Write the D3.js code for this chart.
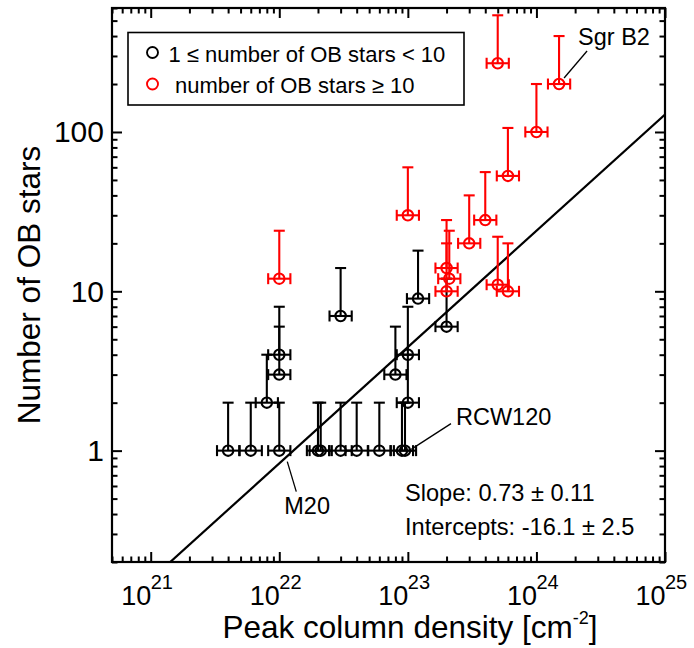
<!DOCTYPE html>
<html>
<head>
<meta charset="utf-8">
<script src="https://cdn.jsdelivr.net/npm/d3@7/dist/d3.min.js"></script>
<style>
  html, body { margin: 0; padding: 0; background: #fff; }
  svg { display: block; font-family: "Liberation Sans", Arial, Helvetica, sans-serif; }
</style>
</head>
<body>
<svg id="chart" width="694" height="648"></svg>
<script>
// Regions with 1 <= N(OB) < 10: peak column density [cm^-2], OB star count, upper error bound
const blackNH = [4e21, 6e21, 1e22, 2e22, 2.1e22, 3e22, 4e22, 6e22, 9e22, 9.5e22,
                 8e21, 1e23, 1e22, 1e22, 8e22, 1e23, 2e23, 3e22, 1.2e23];
const blackN = [1, 1, 1, 1, 1, 1, 1, 1, 1, 1,
                2, 2, 3, 4, 3, 4, 6, 7, 9];
const blackNUpper = [2, 2, 2, 2, 2, 2, 2, 2, 2, 2,
                     4, 4, 6, 8, 6, 8, 12, 14, 18];

// Regions with N(OB) >= 10
const redNH = [1e22, 1e23, 2e23, 2.1e23, 2e23, 3e23, 4e23, 5e23, 6e23, 6e23, 5e23, 1e24, 1.5e24];
const redN = [12, 30, 14, 12, 10, 20, 28, 11, 10, 53, 270, 100, 200];
const redNUpper = [24, 60, 28, 24, 20, 40, 56, 22, 20, 106, 540, 200, 400];

// Multiplicative uncertainty on the peak column density
const nhErrFactor = 1.22;

// Power-law fit: log N = slope * log NH + intercept
const fitSlope = 0.73;
const fitIntercept = -16.14;
const slopeText = "Slope: 0.73 \u00b1 0.11";
const interceptText = "Intercepts: -16.1 \u00b1 2.5";

// Axis extents and major tick exponents
const xDomain = [5e20, 1e25];
const yDomain = [0.2, 600];
const xTickExponents = [21, 22, 23, 24, 25];
const yTickValues = [1, 10, 100];
const yTickLabels = ["1", "10", "100"];

// Named regions
const namedRegions = [
  { name: "Sgr B2", nh: 1.5e24, n: 200 },
  { name: "M20", nh: 1e22, n: 1 },
  { name: "RCW120", nh: 9.5e22, n: 1 }
];

const legendLabels = ["1 \u2264 number of OB stars < 10", "number of OB stars \u2265 10"];

const RED = "#ff0000";
const svg = d3.select("#chart");
const plot = { left: 112, right: 665, top: 8, bottom: 562 };

const x = d3.scaleLog().domain(xDomain).range([plot.left, plot.right]);
const y = d3.scaleLog().domain(yDomain).range([plot.bottom, plot.top]);

svg.append("defs").append("clipPath").attr("id", "plotClip")
  .append("rect")
  .attr("x", plot.left).attr("y", plot.top)
  .attr("width", plot.right - plot.left).attr("height", plot.bottom - plot.top);

// ---- axes: inward ticks on all four sides ----
const isMajor = v => Math.abs(Math.log10(v) - Math.round(Math.log10(v))) < 1e-9;
const xAll = x.ticks();
const yAll = y.ticks();
const xMinor = xAll.filter(v => !isMajor(v));
const xMajor = xAll.filter(isMajor);
const yMinor = yAll.filter(v => !isMajor(v));
const yMajor = yAll.filter(isMajor);

function drawAxis(gen, transform) {
  const g = svg.append("g").attr("transform", transform).call(gen);
  g.select(".domain").remove();
  g.selectAll(".tick line").attr("stroke", "#000").attr("stroke-width", 2);
  g.selectAll(".tick text").remove();
  return g;
}
const majorLen = 10, minorLen = 5.5;
drawAxis(d3.axisBottom(x).tickValues(xMajor).tickSize(-majorLen), `translate(0,${plot.bottom})`);
drawAxis(d3.axisBottom(x).tickValues(xMinor).tickSize(-minorLen), `translate(0,${plot.bottom})`);
drawAxis(d3.axisTop(x).tickValues(xMajor).tickSize(-majorLen), `translate(0,${plot.top})`);
drawAxis(d3.axisTop(x).tickValues(xMinor).tickSize(-minorLen), `translate(0,${plot.top})`);
drawAxis(d3.axisLeft(y).tickValues(yMajor).tickSize(-majorLen), `translate(${plot.left},0)`);
drawAxis(d3.axisLeft(y).tickValues(yMinor).tickSize(-minorLen), `translate(${plot.left},0)`);
drawAxis(d3.axisRight(y).tickValues(yMajor).tickSize(-majorLen), `translate(${plot.right},0)`);
drawAxis(d3.axisRight(y).tickValues(yMinor).tickSize(-minorLen), `translate(${plot.right},0)`);

svg.append("rect")
  .attr("x", plot.left).attr("y", plot.top)
  .attr("width", plot.right - plot.left).attr("height", plot.bottom - plot.top)
  .attr("fill", "none").attr("stroke", "#000").attr("stroke-width", 2.2);

// x tick labels: 10 with a raised exponent
const xLab = svg.append("g").attr("fill", "#000");
xTickExponents.forEach(e => {
  const px = x(Math.pow(10, e));
  xLab.append("text").attr("x", px + 0.5).attr("y", 605)
    .attr("text-anchor", "end").attr("font-size", 27).text("10");
  xLab.append("text").attr("x", px).attr("y", 589)
    .attr("text-anchor", "start").attr("font-size", 20).text(String(e));
});

// y tick labels
yTickValues.forEach((v, i) => {
  svg.append("text").attr("x", 104).attr("y", y(v) + 10.5)
    .attr("text-anchor", "end").attr("font-size", 30).text(yTickLabels[i]);
});

// axis titles
const xTitle = svg.append("text").attr("x", 410).attr("y", 638)
  .attr("text-anchor", "middle").attr("font-size", 31.5);
xTitle.append("tspan").text("Peak column density [cm");
xTitle.append("tspan").attr("font-size", 18).attr("dy", -14).text("-2");
xTitle.append("tspan").attr("dy", 14).text("]");

svg.append("text")
  .attr("transform", `translate(40,${(plot.top + plot.bottom) / 2}) rotate(-90)`)
  .attr("text-anchor", "middle").attr("font-size", 31.5)
  .text("Number of OB stars");

// ---- fit line ----
const fitY = nh => Math.pow(10, fitSlope * Math.log10(nh) + fitIntercept);
svg.append("line")
  .attr("clip-path", "url(#plotClip)")
  .attr("x1", x(xDomain[0])).attr("y1", y(fitY(xDomain[0])))
  .attr("x2", x(xDomain[1])).attr("y2", y(fitY(xDomain[1])))
  .attr("stroke", "#000").attr("stroke-width", 2.2);

// ---- data points with error bars ----
const cap = 5.5;
function drawSeries(nhs, ns, ups, color) {
  const g = svg.append("g").attr("stroke", color).attr("stroke-width", 2.1).attr("fill", "none");
  nhs.forEach((nh, i) => {
    const px = x(nh), py = y(ns[i]);
    const xl = x(nh / nhErrFactor), xr = x(nh * nhErrFactor);
    const yu = y(ups[i]);
    // horizontal bar
    g.append("line").attr("x1", xl).attr("x2", xr).attr("y1", py).attr("y2", py);
    g.append("line").attr("x1", xl).attr("x2", xl).attr("y1", py - cap).attr("y2", py + cap);
    g.append("line").attr("x1", xr).attr("x2", xr).attr("y1", py - cap).attr("y2", py + cap);
    // upper bar
    g.append("line").attr("x1", px).attr("x2", px).attr("y1", py).attr("y2", yu);
    g.append("line").attr("x1", px - cap).attr("x2", px + cap).attr("y1", yu).attr("y2", yu);
    g.append("circle").attr("cx", px).attr("cy", py).attr("r", 5.2);
  });
}
drawSeries(blackNH, blackN, blackNUpper, "#000");
drawSeries(redNH, redN, redNUpper, RED);

// ---- region annotations ----
const annotationLayout = {
  "Sgr B2": { l0: [5, -6], l1: [28, -33], t: [19, -39] },
  "M20": { l0: [8, 11], l1: [17, 41], t: [5, 63] },
  "RCW120": { l0: [6.5, -1.5], l1: [46, -27], t: [51, -25.5] }
};
namedRegions.forEach(r => {
  const px = x(r.nh), py = y(r.n);
  const L = annotationLayout[r.name];
  svg.append("line")
    .attr("x1", px + L.l0[0]).attr("y1", py + L.l0[1])
    .attr("x2", px + L.l1[0]).attr("y2", py + L.l1[1])
    .attr("stroke", "#000").attr("stroke-width", 1.3);
  svg.append("text").attr("x", px + L.t[0]).attr("y", py + L.t[1])
    .attr("font-size", 23.5).text(r.name);
});

// fit statistics
svg.append("text").attr("x", 405).attr("y", 501).attr("font-size", 23.6).text(slopeText);
svg.append("text").attr("x", 405).attr("y", 535).attr("font-size", 23.6).text(interceptText);

// ---- legend ----
const legend = svg.append("g");
legend.append("rect").attr("x", 128).attr("y", 32.5).attr("width", 336).attr("height", 72.5)
  .attr("fill", "#fff").attr("stroke", "#000").attr("stroke-width", 1.6);
[["#000", 52.5], [RED, 84]].forEach(([c, cy], i) => {
  legend.append("circle").attr("cx", 152.5).attr("cy", cy).attr("r", 5.5)
    .attr("fill", "none").attr("stroke", c).attr("stroke-width", 1.9);
  legend.append("text").attr("x", i === 0 ? 168.5 : 175).attr("y", cy + 9)
    .attr("font-size", 22).text(legendLabels[i]);
});
</script>
</body>
</html>
